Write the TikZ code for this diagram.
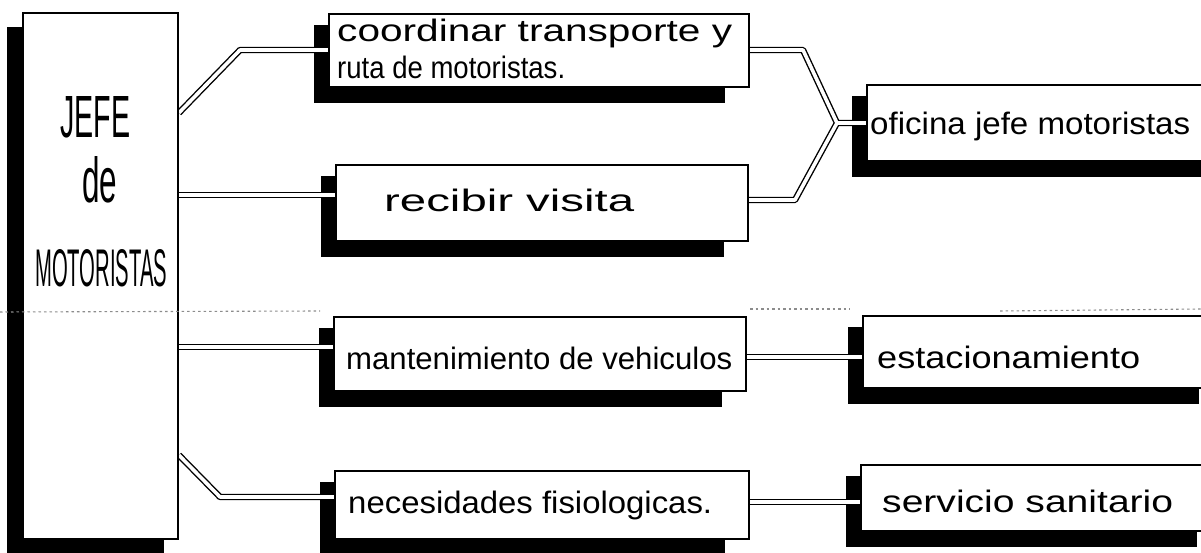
\documentclass[tikz,border=0pt]{standalone}
\usepackage{fontspec}
\setmainfont{Liberation Sans}
\usetikzlibrary{calc}
\pgfdeclarelayer{shadowlayer}
\pgfdeclarelayer{connlayer}
\pgfsetlayers{shadowlayer,connlayer,main}
\newcommand{\hwtext}[2]{\resizebox{#1}{\height}{\fontsize{31}{36}\selectfont #2}}
\begin{document}
\begin{tikzpicture}[x=1pt,y=-1pt,
  box/.style={draw=black, line width=1.8pt, fill=white, inner sep=0pt, anchor=north west},
  conn/.style={draw=black, double=white, double distance=3.6pt, line width=1.4pt, line join=round},
  shade/.style={fill=black},
  lbl/.style={inner sep=0pt, anchor=base west},
  fold/.style={draw=black!45, line width=1.1pt, dash pattern=on 2.5pt off 3pt}]
\useasboundingbox (0,0) rectangle (1201,553);

% boxes
\node[box, minimum width=155pt, minimum height=526pt] (jefe) at (22,12) {};
\node[box, minimum width=420pt, minimum height=73pt] (coord) at (328,13) {};
\node[box, minimum width=412pt, minimum height=76pt] (recibir) at (335,164) {};
\node[box, minimum width=360pt, minimum height=76pt] (oficina) at (866,84) {};
\node[box, minimum width=412pt, minimum height=74pt] (mant) at (333,316) {};
\node[box, minimum width=360pt, minimum height=72pt] (estac) at (862,315) {};
\node[box, minimum width=414pt, minimum height=68pt] (neces) at (334,470) {};
\node[box, minimum width=360pt, minimum height=66pt] (sanit) at (860,464) {};

% shadows
\begin{pgfonlayer}{shadowlayer}
\fill[shade] ($(jefe.north west)+(-15,15)$) rectangle ($(jefe.south east)+(-15,14)$);
\foreach \b in {coord,recibir,oficina,mant,estac,neces,sanit}{
  \fill[shade] ($(\b.north west)+(-14,12)$) rectangle ($(\b.south east)+(-25,15)$);
}
\end{pgfonlayer}

% connector coordinates
\coordinate (j1) at (0,113);
\coordinate (b1) at (240,50);
\coordinate (p2) at (0,195);
\coordinate (p3) at (0,347);
\coordinate (j4) at (0,455);
\coordinate (b4) at (220,497);
\coordinate (r1) at (803,50);
\coordinate (r2) at (795,200);
\coordinate (m) at (837,123);
\coordinate (p5) at (0,357);
\coordinate (p6) at (0,502);

\begin{pgfonlayer}{connlayer}
\draw[conn] (jefe.east |- j1) -- (b1) -- (coord.west |- b1);
\draw[conn] (jefe.east |- p2) -- (recibir.west |- p2);
\draw[conn] (jefe.east |- p3) -- (mant.west |- p3);
\draw[conn] (jefe.east |- j4) -- (b4) -- (neces.west |- b4);
\draw[conn] (coord.east |- r1) -- (r1) -- (m)
            (recibir.east |- r2) -- (r2) -- (m)
            (m) -- (oficina.west |- m);
\draw[conn] (mant.east |- p5) -- (estac.west |- p5);
\draw[conn] (neces.east |- p6) -- (sanit.west |- p6);
\end{pgfonlayer}

% texts
\node[lbl] (tj1) at (60,138) {\resizebox{70pt}{41pt}{\fontsize{40}{44}\selectfont JEFE}};
\node[lbl] (tj2) at (82,203) {\resizebox{35pt}{46pt}{\fontsize{40}{44}\selectfont de}};
\node[lbl] (tj3) at (35,287) {\resizebox{132pt}{37pt}{\fontsize{40}{44}\selectfont MOTORISTAS}};
\node[lbl] (tc1) at (337,42) {\hwtext{395pt}{coordinar transporte y}};
\node[lbl] (tc2) at (337,79) {\hwtext{228pt}{ruta de motoristas.}};
\node[lbl] (tr) at (384,212) {\hwtext{250pt}{recibir visita}};
\node[lbl] (to) at (870,135) {\hwtext{320pt}{oficina jefe motoristas}};
\node[lbl] (tm) at (346,369) {\hwtext{386pt}{mantenimiento de vehiculos}};
\node[lbl] (te) at (877,368) {\hwtext{263pt}{estacionamiento}};
\node[lbl] (tn) at (348,513) {\hwtext{364pt}{necesidades fisiologicas.}};
\node[lbl] (ts) at (882,512) {\hwtext{291pt}{servicio sanitario}};

% fold line of the paper
\draw[fold] (0,312) -- (320,311);
\draw[fold] (750,309) -- (850,309);
\draw[fold] (1000,311) -- (1201,309);
\end{tikzpicture}
\end{document}
